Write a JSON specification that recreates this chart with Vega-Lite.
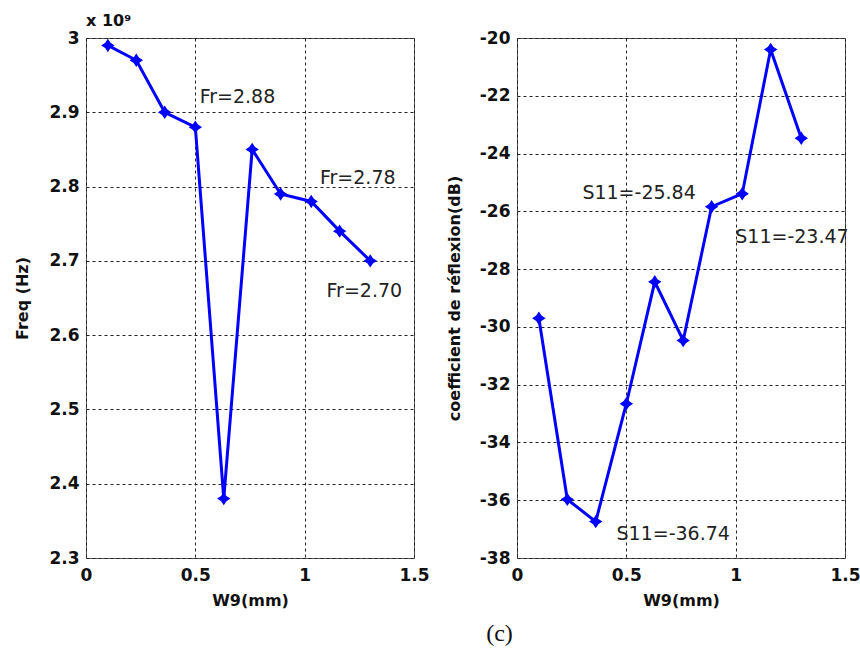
{
  "$schema": "https://vega.github.io/schema/vega-lite/v6.json",
  "background": "white",
  "padding": {"left": 14, "top": 12, "right": 0, "bottom": 0},
  "config": {
    "view": {"stroke": "#555555", "strokeWidth": 1},
    "locale": {"number": {"decimal": ".", "thousands": ",", "grouping": [3], "currency": ["", ""], "minus": "-"}},
    "axis": {
      "labelFont": "DejaVu Sans", "labelFontWeight": "bold", "labelFontSize": 17, "labelColor": "#111111",
      "titleFont": "DejaVu Sans", "titleFontWeight": "bold", "titleFontSize": 16, "titleColor": "#111111",
      "domain": false, "ticks": false, "gridColor": "#222222", "gridDash": [3, 3], "gridOpacity": 1, "gridWidth": 1,
      "labelFlush": false, "labelOverlap": false
    }
  },
  "datasets": {
    "freq": [
      {"w9": 0.1, "f": 2.99}, {"w9": 0.23, "f": 2.97}, {"w9": 0.36, "f": 2.90}, {"w9": 0.5, "f": 2.88},
      {"w9": 0.63, "f": 2.38}, {"w9": 0.76, "f": 2.85}, {"w9": 0.89, "f": 2.79}, {"w9": 1.03, "f": 2.78},
      {"w9": 1.16, "f": 2.74}, {"w9": 1.3, "f": 2.70}
    ],
    "freqLabels": [
      {"w9": 0.52, "f": 2.921, "label": "Fr=2.88"},
      {"w9": 1.07, "f": 2.811, "label": "Fr=2.78"},
      {"w9": 1.10, "f": 2.659, "label": "Fr=2.70"}
    ],
    "s11": [
      {"w9": 0.1, "s": -29.7}, {"w9": 0.23, "s": -35.97}, {"w9": 0.36, "s": -36.74}, {"w9": 0.5, "s": -32.66},
      {"w9": 0.63, "s": -28.44}, {"w9": 0.76, "s": -30.47}, {"w9": 0.89, "s": -25.84}, {"w9": 1.03, "s": -25.39},
      {"w9": 1.16, "s": -20.40}, {"w9": 1.3, "s": -23.47}
    ],
    "s11Labels": [
      {"w9": 0.299, "s": -25.36, "label": "S11=-25.84"},
      {"w9": 0.998, "s": -26.88, "label": "S11=-23.47"},
      {"w9": 0.455, "s": -37.18, "label": "S11=-36.74"}
    ]
  },
  "spacing": 15,
  "title": {"text": "(c)", "orient": "bottom", "anchor": "middle", "font": "Liberation Serif", "fontSize": 24, "fontWeight": "normal", "color": "#111111", "offset": 13, "dx": 62},
  "hconcat": [
    {
      "width": 328, "height": 520,
      "title": {"text": "x 10⁹", "anchor": "start", "frame": "group", "font": "DejaVu Sans", "fontSize": 16, "fontWeight": "bold", "color": "#111111", "offset": 0},
      "encoding": {
        "x": {"field": "w9", "type": "quantitative", "scale": {"domain": [0, 1.5], "nice": false},
              "axis": {"values": [0, 0.5, 1, 1.5], "format": "~g", "title": "W9(mm)", "labelPadding": 9.5, "titlePadding": 8.5}},
        "y": {"field": "f", "type": "quantitative", "scale": {"domain": [2.3, 3.0], "nice": false, "zero": false},
              "axis": {"values": [2.3, 2.4, 2.5, 2.6, 2.7, 2.8, 2.9, 3.0], "format": ".1~f", "title": "Freq (Hz)", "labelPadding": 7, "titlePadding": 18}}
      },
      "layer": [
        {"data": {"name": "freq"}, "mark": {"type": "line", "color": "#0000ff", "strokeWidth": 3}},
        {"data": {"name": "freq"}, "mark": {"type": "point", "shape": "M0,-1L0.4,-0.4L1,0L0.4,0.4L0,1L-0.4,0.4L-1,0L-0.4,-0.4Z", "filled": true, "color": "#0000ff", "size": 180, "opacity": 1}},
        {"data": {"name": "freqLabels"}, "mark": {"type": "text", "align": "left", "baseline": "middle", "font": "DejaVu Sans", "fontSize": 19, "color": "#222222"},
         "encoding": {"text": {"field": "label", "type": "nominal"}}}
      ]
    },
    {
      "width": 328, "height": 520,
      "encoding": {
        "x": {"field": "w9", "type": "quantitative", "scale": {"domain": [0, 1.5], "nice": false},
              "axis": {"values": [0, 0.5, 1, 1.5], "format": "~g", "title": "W9(mm)", "labelPadding": 9.5, "titlePadding": 8.5}},
        "y": {"field": "s", "type": "quantitative", "scale": {"domain": [-38, -20], "nice": false, "zero": false},
              "axis": {"values": [-38, -36, -34, -32, -30, -28, -26, -24, -22, -20], "format": "d", "title": "coefficient de réflexion(dB)", "labelPadding": 7, "titlePadding": 17}}
      },
      "layer": [
        {"data": {"name": "s11"}, "mark": {"type": "line", "color": "#0000ff", "strokeWidth": 3}},
        {"data": {"name": "s11"}, "mark": {"type": "point", "shape": "M0,-1L0.4,-0.4L1,0L0.4,0.4L0,1L-0.4,0.4L-1,0L-0.4,-0.4Z", "filled": true, "color": "#0000ff", "size": 180, "opacity": 1}},
        {"data": {"name": "s11Labels"}, "mark": {"type": "text", "align": "left", "baseline": "middle", "font": "DejaVu Sans", "fontSize": 19, "color": "#222222"},
         "encoding": {"text": {"field": "label", "type": "nominal"}}}
      ]
    }
  ]
}
